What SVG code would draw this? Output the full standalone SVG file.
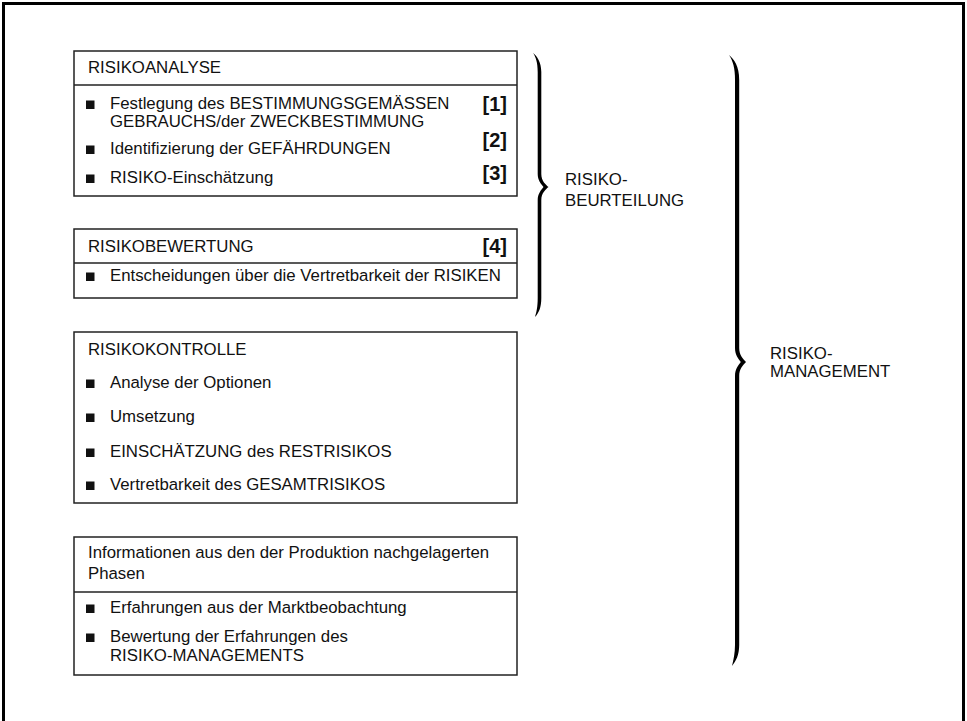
<svg xmlns="http://www.w3.org/2000/svg" width="967" height="721" viewBox="0 0 967 721">
<style>
.t{font-family:"Liberation Sans",Arial,sans-serif;font-size:16.8px;fill:#111}
.n{font-family:"Liberation Sans",Arial,sans-serif;font-size:20px;font-weight:bold;fill:#111;text-anchor:end}
.box{fill:#fff;stroke:#222;stroke-width:1.5}
.div{stroke:#222;stroke-width:1.5}
.b{fill:#111}
.brace{fill:#000}
</style>
<rect x="0" y="0" width="967" height="721" fill="#fff"/>
<rect x="3.5" y="3.5" width="960" height="800" fill="none" stroke="#000" stroke-width="3"/>

<g id="risikoanalyse">
<rect class="box" x="74" y="51" width="443" height="145"/>
<line class="div" x1="74" y1="85" x2="517" y2="85"/>
<text class="t" x="88" y="73">RISIKOANALYSE</text>
<rect class="b" x="86" y="100.5" width="8.5" height="8.5"/>
<text class="t" x="110" y="109">Festlegung des BESTIMMUNGSGEMÄSSEN</text>
<text class="t" x="110" y="127">GEBRAUCHS/der ZWECKBESTIMMUNG</text>
<text class="n" x="507" y="111">[1]</text>
<rect class="b" x="86" y="145.5" width="8.5" height="8.5"/>
<text class="t" x="110" y="154">Identifizierung der GEFÄHRDUNGEN</text>
<text class="n" x="507" y="147">[2]</text>
<rect class="b" x="86" y="174.5" width="8.5" height="8.5"/>
<text class="t" x="110" y="183">RISIKO-Einschätzung</text>
<text class="n" x="507" y="180">[3]</text>
</g>

<g id="risikobewertung">
<rect class="box" x="74" y="229" width="443" height="69"/>
<line class="div" x1="74" y1="263" x2="517" y2="263"/>
<text class="t" x="88" y="252">RISIKOBEWERTUNG</text>
<text class="n" x="507" y="253">[4]</text>
<rect class="b" x="86" y="272.5" width="8.5" height="8.5"/>
<text class="t" x="110" y="281">Entscheidungen über die Vertretbarkeit der RISIKEN</text>
</g>

<g id="risikokontrolle">
<rect class="box" x="74" y="332" width="443" height="171"/>
<text class="t" x="88" y="355">RISIKOKONTROLLE</text>
<rect class="b" x="86" y="379.5" width="8.5" height="8.5"/>
<text class="t" x="110" y="388">Analyse der Optionen</text>
<rect class="b" x="86" y="413.5" width="8.5" height="8.5"/>
<text class="t" x="110" y="422">Umsetzung</text>
<rect class="b" x="86" y="448.5" width="8.5" height="8.5"/>
<text class="t" x="110" y="457">EINSCHÄTZUNG des RESTRISIKOS</text>
<rect class="b" x="86" y="481.5" width="8.5" height="8.5"/>
<text class="t" x="110" y="490">Vertretbarkeit des GESAMTRISIKOS</text>
</g>

<g id="informationen">
<rect class="box" x="74" y="537" width="443" height="138"/>
<line class="div" x1="74" y1="592" x2="517" y2="592"/>
<text class="t" x="88" y="558">Informationen aus den der Produktion nachgelagerten</text>
<text class="t" x="88" y="579">Phasen</text>
<rect class="b" x="86" y="604.5" width="8.5" height="8.5"/>
<text class="t" x="110" y="613">Erfahrungen aus der Marktbeobachtung</text>
<rect class="b" x="86" y="633.5" width="8.5" height="8.5"/>
<text class="t" x="110" y="642">Bewertung der Erfahrungen des</text>
<text class="t" x="110" y="661">RISIKO-MANAGEMENTS</text>
</g>

<g id="connectors">
<path class="brace" d="M533,53 C537,56 541.3,62 541.3,72 L541.3,174 C541.3,181 546,185 548.5,187 C546,189 541.3,193 541.3,200 L541.3,298 C541.3,307 539,313 535,317 C536.5,312 537.7,307 537.7,298 L537.7,200 C537.7,194 541,190 543.5,187 C541,184 537.7,180 537.7,174 L537.7,72 C537.7,63 536,57 533,53 Z"/>
<path class="brace" d="M729,55 C734,59 739.2,66 739.2,80 L739.2,348 C739.2,355 743,359 746,362 C743,365 739.2,369 739.2,376 L739.2,645 C739.2,655 736,661 732,666 C733.5,660 735,653 735,645 L735,376 C735,369 738.5,365 740.8,362 C738.5,359 735,355 735,348 L735,80 C735,68 733,61 729,55 Z"/>
</g>

<g id="risikobeurteilung">
<text class="t" x="565" y="185">RISIKO-</text>
<text class="t" x="565" y="206">BEURTEILUNG</text>
</g>

<g id="risikomanagement">
<text class="t" x="770" y="359">RISIKO-</text>
<text class="t" x="770" y="377">MANAGEMENT</text>
</g>
</svg>
